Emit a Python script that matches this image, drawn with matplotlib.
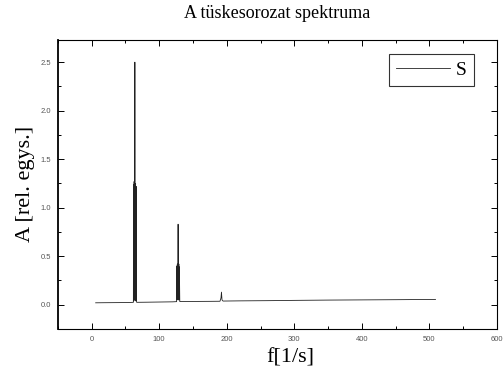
import numpy as np
import matplotlib
matplotlib.use('Agg')
import matplotlib.pyplot as plt
from matplotlib.ticker import MultipleLocator

# spectrum of the spike train
freq = [6, 20, 40, 55, 61.8, 62.1, 62.5, 62.9, 63.3, 63.7, 64.0, 64.3, 64.7, 65.1, 65.5, 65.9, 66.2, 67.0,
        80, 100, 120, 125.8, 126.1, 126.5, 126.9, 127.3, 127.7, 128.0, 128.3, 128.7, 129.1, 129.5, 129.9, 130.5,
        150, 175, 190, 191.5, 192.2, 193.0, 194.5, 220, 260, 300, 350, 400, 450, 509]
amp = [0.02, 0.021, 0.022, 0.023, 0.025, 1.24, 0.04, 1.27, 0.05, 1.26, 2.5, 1.27, 0.05, 1.25, 0.04, 1.22, 0.03, 0.025,
       0.026, 0.028, 0.03, 0.032, 0.40, 0.05, 0.42, 0.06, 0.42, 0.83, 0.41, 0.05, 0.42, 0.05, 0.39, 0.033,
       0.034, 0.035, 0.036, 0.07, 0.13, 0.05, 0.038, 0.04, 0.042, 0.045, 0.048, 0.05, 0.052, 0.055]

xticks = [0, 100, 200, 300, 400, 500, 600]
yticks = [0.0, 0.5, 1.0, 1.5, 2.0, 2.5]

fig = plt.figure(figsize=(5.03, 3.76), dpi=100)
ax = fig.add_axes([0.115, 0.125, 0.873, 0.769])

ax.plot(freq, amp, color='#222222', linewidth=0.6, label='S')

ax.set_xlim(-50, 600)
ax.set_ylim(-0.25, 2.73)
ax.set_xticks(xticks)
ax.set_yticks(yticks)
ax.set_yticklabels(['%.1f' % v for v in yticks])
ax.xaxis.set_minor_locator(MultipleLocator(50))
ax.yaxis.set_minor_locator(MultipleLocator(0.25))
ax.tick_params(which='both', direction='in', top=True, right=True, labelsize=5.5,
               labelcolor='#555555', width=0.7, pad=5)
ax.tick_params(which='major', length=4)
ax.tick_params(which='minor', length=2)
for lab in ax.get_xticklabels() + ax.get_yticklabels():
    lab.set_family('Liberation Sans')
for s in ax.spines.values():
    s.set_linewidth(0.8)
ax.spines['left'].set_linewidth(1.3)

ax.set_title('A tüskesorozat spektruma', family='Liberation Serif', fontsize=13, pad=16)
ax.set_xlabel('f[1/s]', family='Liberation Serif', fontsize=16, labelpad=4, x=0.53)
ax.set_ylabel('A [rel. egys.]', family='Liberation Serif', fontsize=16, labelpad=4)

leg = ax.legend(loc='upper right', bbox_to_anchor=(0.947, 0.95), frameon=True, fancybox=False,
                prop={'family': 'Liberation Serif', 'size': 14}, handlelength=2.8,
                borderpad=0.35, handletextpad=0.3, borderaxespad=0)
leg.get_frame().set_edgecolor('black')
leg.get_frame().set_linewidth(0.8)

fig.savefig('out.png', dpi=100)
